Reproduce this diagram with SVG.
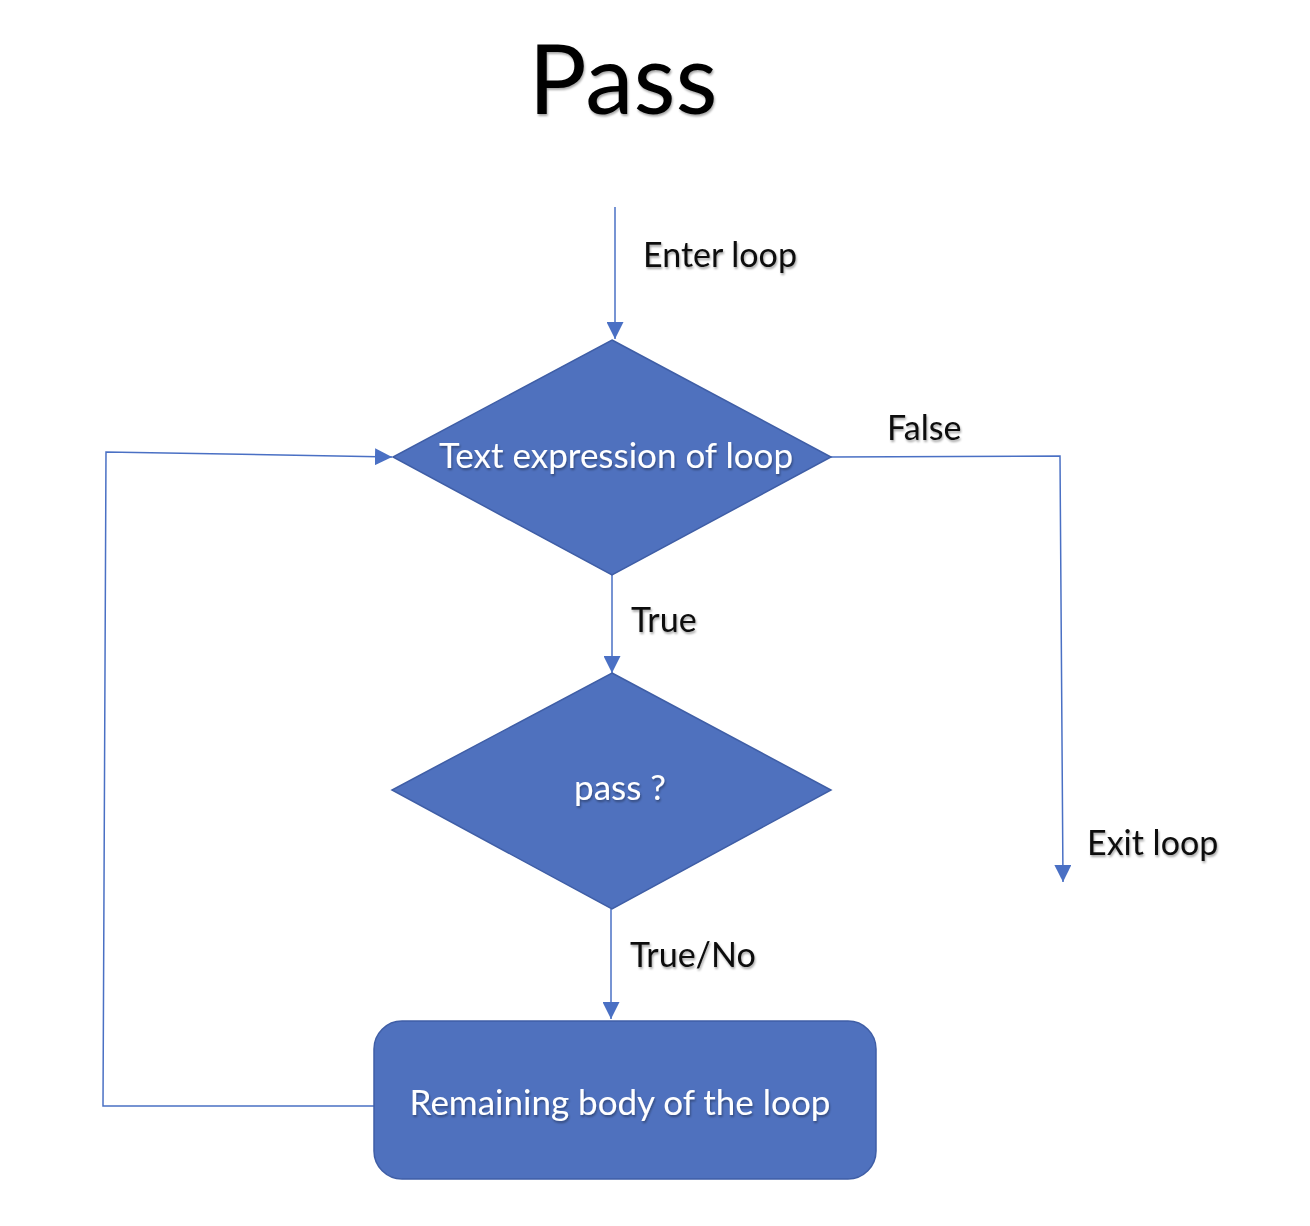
<svg xmlns="http://www.w3.org/2000/svg" width="1310" height="1226" viewBox="0 0 1310 1226">
<style>
.shape{fill:#4f71be;stroke:#3f5ea6;stroke-width:1.5}
.lbl{font-family:Lato,"Open Sans","Liberation Sans",sans-serif;fill:#111;font-size:34px}
.in{font-family:Lato,"Open Sans","Liberation Sans",sans-serif;fill:#fff;font-size:35px;text-anchor:middle}
.conn{fill:none;stroke:#4a70c4;stroke-width:1.5}
</style>
<defs>
<marker id="ah" viewBox="0 0 10 10" refX="10" refY="5" markerWidth="17" markerHeight="17" markerUnits="userSpaceOnUse" orient="auto">
<path d="M0,0 L10,5 L0,10 z" fill="#4a70c4"/>
</marker>
<filter id="sh" x="-5%" y="-20%" width="110%" height="140%">
<feDropShadow dx="1" dy="2" stdDeviation="1.2" flood-color="#000" flood-opacity="0.35"/>
</filter>
</defs>
<rect width="1310" height="1226" fill="#fff"/>
<text x="623" y="114" text-anchor="middle" font-family="Lato,'Open Sans','Liberation Sans',sans-serif" font-size="97" fill="#000" filter="url(#sh)">Pass</text>
<g id="connectors">
<path class="conn" d="M615,207 L615,339" marker-end="url(#ah)"/>
<path class="conn" d="M831,457 L1060,456 L1063,882" marker-end="url(#ah)"/>
<path class="conn" d="M612,575 L612,673" marker-end="url(#ah)"/>
<path class="conn" d="M611,909 L611,1019" marker-end="url(#ah)"/>
<path class="conn" d="M374,1106 L103,1106 L106,452 L392,457" marker-end="url(#ah)"/>
</g>
<g id="labels">
<text class="lbl" x="643" y="267" filter="url(#sh)">Enter loop</text>
<text class="lbl" x="887" y="440" filter="url(#sh)">False</text>
<text class="lbl" x="631" y="632" filter="url(#sh)">True</text>
<text class="lbl" x="630" y="967" filter="url(#sh)">True/No</text>
<text class="lbl" x="1087" y="855" filter="url(#sh)">Exit loop</text>
</g>
<g id="node-test">
<polygon class="shape" points="612,340 831,457 612,575 393,457"/>
<text class="in" x="616" y="468" filter="url(#sh)">Text expression of loop</text>
</g>
<g id="node-pass">
<polygon class="shape" points="612,673 831,790 612,909 392,790"/>
<text class="in" x="620" y="800" filter="url(#sh)">pass ?</text>
</g>
<g id="node-body">
<rect class="shape" x="374" y="1021" width="502" height="158" rx="28"/>
<text class="in" x="620" y="1115" filter="url(#sh)">Remaining body of the loop</text>
</g>
</svg>
